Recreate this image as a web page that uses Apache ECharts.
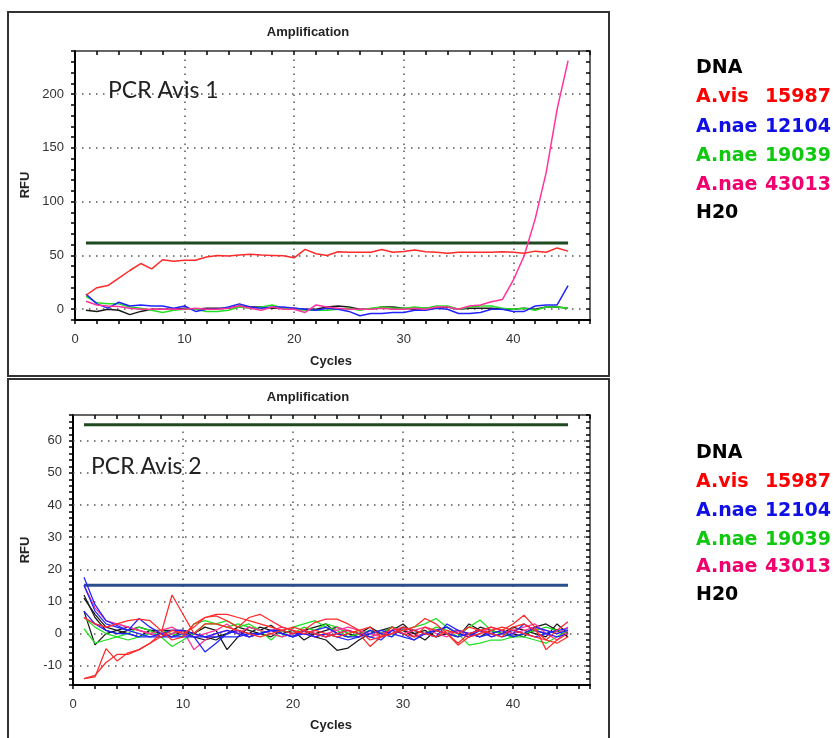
<!DOCTYPE html>
<html>
<head>
<meta charset="utf-8">
<script src="https://cdn.jsdelivr.net/npm/echarts@6/dist/echarts.min.js"></script>
<style>html,body{margin:0;padding:0;background:#fff;}#c{width:833px;height:738px;}</style>
</head>
<body>
<div id="c"></div>
<script>
// ---------- DATA ----------
const cycles = [1,2,3,4,5,6,7,8,9,10,11,12,13,14,15,16,17,18,19,20,21,22,23,24,25,26,27,28,29,30,31,32,33,34,35,36,37,38,39,40,41,42,43,44,45];

// Top chart (PCR Avis 1)
const top_red   = [13,20,22,29,36,42.5,37.5,46,44.7,45.6,45.6,48.5,50,49.4,50.3,51,50.3,50,49.7,47.8,55.6,51.6,50,53.4,53,53,53,55.6,53,53.7,55,53.5,53,52,53,53,53,53,53.5,53,52,54,53,57,54];
const top_blue  = [14,5,1,6.5,3,4,3,3,1,3,-2,0,0,2,5,2,1,2,2,1,0,-1,1,0,-2,-6,-4,-4,-3,-3,-1,-1,1,0,-4,-4,-3,0,0,-2,-2,3,4,4,22];
const top_green = [12,6,5,5,2,1,-1,-3,-1,0,0,-2,-2,-1,2,1,2,4,1,0,-1,-1,-1,0,1,-1,1,2,1,1,2,1,3,3,0,2,3,3,1,0,1,-1,2,2,1];
const top_pink  = [7.5,4,3,2.5,1,0,0,0,0,0,1,0,0,1,3,1,-1,2,0,0,-3,4,2,1,0,0,0,1,0,0,1,0,2,2,0,3,4,7,9,27,50,84,127,186,231];
const top_black = [-1,-2,0,-1,-5,-2,0,0,0,1,0,1,1,1,3,2,2,1,1,1,0,0,2,3,2,0,0,2,2,1,0,1,1,2,0,1,1,1,0,0,1,0,2,2,1];
const top_threshold = [61.5];

// Bottom chart (PCR Avis 2)
const bot_red1   = [-14,-13.5,-4.7,-8.5,-6,-5,-3,0,12,6,0,3,3,2,1,0,-1,0,1,2,1,0,-1,0,1,0,-4,-1,2,0,-1,2,1,0,-3,0,1,2,1,3,5.7,2,-5,-2,0];
const bot_red2   = [-14,-13,-9,-6.5,-6.5,-5,-3,-1,1,0,2,5,6,6,5,4,3,2,1,0,1,3.5,4.5,4.5,3,1,-2,-1,0,1,2,4.7,3,0,-3.6,-1,0,1,2,1,0,-1,-2,1,3.7];
const bot_red3   = [5,3,2,3,4,4.5,4,1,-2,-1,3,5,5.5,4,2,5,6,4,2,1,0,1,0,-1,0,1,2,-1,0,2,1,0,-1,1,0,2,1,0,-1,2,3,1,-2,-3,-1];
const bot_blue1  = [17.5,9,4,2.5,1,4.7,2,0,-1,0,-1,-5.7,-3,0,1,-1,0,1,0,-1,1,0,-1,0,1,0,-1,-2,1,0,-2,0,1,2,0,-1,1,0,-1,0,3,1,0,-1,0];
const bot_blue2  = [15,7,3,2,1,0,-1,0,1,1,0,-1,0,1,0,-1,0,1,0,-1,0,1,2,0,-1,-1,1,0,-1,2,1,0,-1,3,1,0,-1,0,1,-1,0,2,1,0,1];
const bot_blue3  = [7,3,1,0,0,-1,-1,-1,-1,-1,-1,-1,-1,-1,-1,0,0,1,1,0,0,-1,0,-1,-2,-1,0,1,0,-1,-2,0,1,0,-1,0,1,-1,0,1,0,-1,0,1,1.5];
const bot_green1 = [1.5,-3,-2,-1,0,2,1,-1,-4,-2,0,3,3,2,3,2,1,-2,1,0,2,1,3,2,0,1,-1,0,2,1,2,3,4.7,2,0,-3.6,-3,-2,-2,-1,-1,-2,-3,-1,1];
const bot_green2 = [5,2,0,-1,-2,-1,0,1,0,-1,3,4,3,4,2,3,1,0,-1,2,3,4,2,1,-1,0,1,0,-1,2,1,0,2,1,-1,2,4.2,1,0,-1,0,1,2,1,0];
const bot_black1 = [12,5,1,0,1,2,1,0,-1,1,0,2,1,-5,-1,2,1,2.6,0,-1,1,2,3,0,-1,0,2,0,1,3,0,-2,1,0,-1,3,1,0,1,0,-1,2,3,1,-1];
const bot_black2 = [7,-3.5,0,1,2,1,0,-1,0,1,-1,-2,-1,0,1,0,2,1,0,1,-2,0,1,2,0,-1,1,0,2,1,-1,0,1,2,0,-1,2,1,0,2,1,0,-1,3,0];
const bot_black3 = [11,6,2,1,0,-1,1,1,1,1,0,-1,-2,0,2,1,0,-1,1,0,1,-1,-2,-5.2,-4.5,-2,0,1,2,1,0,1,-1,0,1,0,-1,1,0,-1,0,1,0,1,-1];
const bot_pink1  = [15,8,4,3,2,1,0,-1,0,1,-5,-2,0,1,0,2,1,0,-1,0,1,0,-1,2,1,0,-1,0,1,2,-1,0,1,0,1,-1,0,2,1,0,1,2,1,0,2];
const bot_pink2  = [5,3,2,3,2,1,0,1,2,0,-1,0,1,3,0,-1,0,1,2,1,0,-1,0,1,2,1,0,-1,1,0,1,2,0,-1,1,0,1,-1,0,1,2,3,0,-2,1];
const bot_threshold_green = [65];
const bot_threshold_blue = [15];

// Axis / grid values
const xGrid = [10,20,30,40];
const yGridTop = [0,50,100,150,200];
const yGridBot = [-10,0,10,20,30,40,50,60];
const thresholdSpan = [1,45];

// Legend text
const legendRows = [
  {label:'DNA', num:'', color:'#000000'},
  {label:'A.vis', num:'15987', color:'#ff0000'},
  {label:'A.nae', num:'12104', color:'#1010e6'},
  {label:'A.nae', num:'19039', color:'#10c810'},
  {label:'A.nae', num:'43013', color:'#f0006e'},
  {label:'H20', num:'', color:'#000000'}
];

// ---------- CHART ----------
const C = {red:'#ff2a2a', blue:'#2222ff', green:'#22e022', pink:'#ff3399', black:'#1a1a1a'};
const pts = arr => arr.map((v,i)=>[cycles[i], v]);

function mkX(gi, pos, main){
  return {type:'value', gridIndex:gi, position:pos, min:0, max:47, interval:2,
    axisLine:{show:true, onZero:false, lineStyle:{color: main?'#000':'#333', width: main?2:1.5}},
    axisTick:{show:true, inside:!main, length:4, lineStyle:{color:'#000', width:1.5}},
    axisLabel:{show:main, margin:13, fontFamily:'Liberation Sans', fontSize:13, color:'#333',
      formatter: v => (v%10===0 ? String(v) : '')},
    splitLine:{show:false}};
}
function mkY(gi, pos, main, min, max, labStep){
  return {type:'value', gridIndex:gi, position:pos, min:min, max:max, interval:(labStep===50?10:2),
    axisLine:{show:true, onZero:false, lineStyle:{color: main?'#000':'#333', width: main?2:1.5}},
    axisTick:{show:true, inside:!main, length:4, lineStyle:{color:'#000', width:1.5}},
    axisLabel:{show:main, margin:11, fontFamily:'Liberation Sans', fontSize:13, color:'#333',
      formatter: v => (v%labStep===0 ? String(v) : '')},
    splitLine:{show:false}};
}
function line(data, color, xi, yi, w){
  return {type:'line', data:pts(data), xAxisIndex:xi, yAxisIndex:yi, showSymbol:false, symbol:'none',
    lineStyle:{color:color, width:w||1.5}, itemStyle:{color:color}, z:3, silent:true};
}
function thr(val, color, xi, yi, gridY){
  return {type:'line', data:thresholdSpan.map(c=>[c,val[0]]), xAxisIndex:xi, yAxisIndex:yi, showSymbol:false,
    symbol:'none', lineStyle:{color:color, width:3}, z:2, silent:true,
    markLine: gridY ? {silent:true, symbol:['none','none'], label:{show:false}, z:1,
      lineStyle:{color:'#555', width:1.5, type:[1.5,5.5]},
      data: gridY.map(v=>({yAxis:v})).concat(xGrid.map(v=>({xAxis:v})))} : undefined};
}

const txt = (text,x,y,font,fill,align,valign,rot) => ({type:'text', x:x, y:y, rotation:rot||0, z:10,
  style:{text:text, font:font, fill:fill, textAlign:align||'center', textVerticalAlign:valign||'middle', align:align||'center', verticalAlign:valign||'middle'}});

const graphics = [
  {type:'rect', shape:{x:8,y:12,width:601,height:364}, style:{fill:'none', stroke:'#333', lineWidth:2}, z:0},
  {type:'rect', shape:{x:8,y:379,width:601,height:380}, style:{fill:'none', stroke:'#333', lineWidth:2}, z:0},
  txt('Amplification',308,32,'bold 13px "Liberation Sans"','#222'),
  txt('Amplification',308,397,'bold 13px "Liberation Sans"','#222'),
  txt('Cycles',331,361,'bold 13px "Liberation Sans"','#222'),
  txt('Cycles',331,725,'bold 13px "Liberation Sans"','#222'),
  txt('RFU',25,185,'bold 13px "Liberation Sans"','#222','center','middle',Math.PI/2),
  txt('RFU',25,550,'bold 13px "Liberation Sans"','#222','center','middle',Math.PI/2),
  txt('PCR Avis 1',108,91,'23px Lato','#222','left'),
  txt('PCR Avis 2',91,467,'23px Lato','#222','left')
];
const topRows = [68,97,127,156,185,213];
const botRows = [453,482,511,540,567,595];
[topRows, botRows].forEach(rows => {
  legendRows.forEach((r,i) => {
    graphics.push(txt(r.label,696,rows[i],'bold 19px "DejaVu Sans"',r.color,'left'));
    if (r.num) graphics.push(txt(r.num,831,rows[i],'bold 19px "DejaVu Sans"',r.color,'right'));
  });
});

const option = {
  animation:false,
  backgroundColor:'#fff',
  grid:[{left:75, top:51, width:515, height:269}, {left:73, top:415, width:517, height:270}],
  xAxis:[mkX(0,'bottom',true), mkX(0,'top',false), mkX(1,'bottom',true), mkX(1,'top',false)],
  yAxis:[mkY(0,'left',true,-10,240,50), mkY(0,'right',false,-10,240,50),
         mkY(1,'left',true,-16,68,10), mkY(1,'right',false,-16,68,10)],
  graphic: graphics,
  series:[
    thr(top_threshold,'#1f4a1f',0,0,yGridTop),
    line(top_black, C.black,0,0),
    line(top_green, C.green,0,0),
    line(top_blue, C.blue,0,0),
    line(top_pink, C.pink,0,0),
    line(top_red, C.red,0,0),
    thr(bot_threshold_green,'#1f4a1f',2,2,yGridBot),
    thr(bot_threshold_blue,'#2a4f8c',2,2,null),
    line(bot_black1, C.black,2,2,1.25),
    line(bot_black2, C.black,2,2,1.25),
    line(bot_black3, C.black,2,2,1.25),
    line(bot_green1, C.green,2,2,1.25),
    line(bot_green2, C.green,2,2,1.25),
    line(bot_pink1, C.pink,2,2,1.25),
    line(bot_pink2, C.pink,2,2,1.25),
    line(bot_blue1, C.blue,2,2,1.25),
    line(bot_blue2, C.blue,2,2,1.25),
    line(bot_blue3, C.blue,2,2,1.25),
    line(bot_red1, C.red,2,2,1.25),
    line(bot_red2, C.red,2,2,1.25),
    line(bot_red3, C.red,2,2,1.25)
  ]
};
const chart = echarts.init(document.getElementById('c'), null, {renderer:'canvas'});
chart.setOption(option);
</script>
</body>
</html>
